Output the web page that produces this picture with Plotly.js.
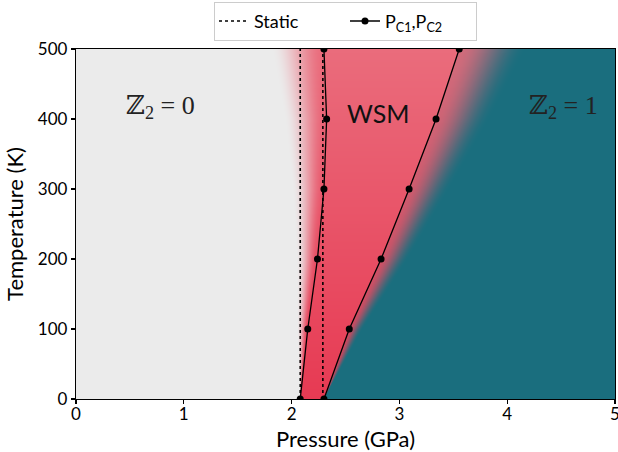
<!DOCTYPE html>
<html>
<head>
<meta charset="utf-8">
<script src="https://cdn.plot.ly/plotly-3.0.1.min.js"></script>
<style>html,body{margin:0;padding:0;background:#fff;}#chart{width:618px;height:452px;}</style>
</head>
<body>
<div id="chart"></div>
<script>
// ---- data ----
const temps = [0, 100, 200, 300, 400, 500];               // K
const pc1 = [2.08, 2.15, 2.24, 2.30, 2.325, 2.30];        // GPa
const pc2 = [2.30, 2.535, 2.83, 3.09, 3.34, 3.555];       // GPa
const staticP = [2.08, 2.29];                             // GPa
const phaseLabels = ['\u2124<sub>2</sub> = 0', 'WSM', '\u2124<sub>2</sub> = 1'];
const labelP = [0.78, 2.81, 4.52];
const labelT = [417, 408, 417];

// ---- styling ----
const gray = [235, 235, 235];
const redBottom = [231, 58, 83];
const redTop = [234, 108, 124];
const teal = [26, 110, 126];

function interp(arr, T) {
  for (let i = 0; i < temps.length - 1; i++) {
    if (T <= temps[i + 1]) {
      const f = (T - temps[i]) / (temps[i + 1] - temps[i]);
      return arr[i] + f * (arr[i + 1] - arr[i]);
    }
  }
  return arr[arr.length - 1];
}
function mix(a, b, t) { return [0,1,2].map(k => Math.round(a[k] + (b[k] - a[k]) * t)); }
function clamp(v) { return Math.max(0, Math.min(1, v)); }
function smooth(t) { t = clamp(t); return t * t * (3 - 2 * t); }

// background phase map (colour field derived from the boundary arrays)
const NX = 539, NY = 350;
const Pmax = 5, Tmax = temps[temps.length - 1];
const dP = Pmax / NX, dT = Tmax / NY;
const img = [];
for (let j = 0; j < NY; j++) {
  const T = Tmax - (j + 0.5) * dT;
  const p1 = interp(pc1, T), p2 = interp(pc2, T);
  const red = mix(redBottom, redTop, T / Tmax);
  const wL = Math.max(0.00098 * T, 0.004);
  const wR = Math.max(0.00125 * T, 0.004);
  const row = [];
  for (let i = 0; i < NX; i++) {
    const P = (i + 0.5) * dP;
    let c;
    if (P < p1) {
      const t = (P - (p1 - wL)) / wL;
      c = mix(gray, red, smooth(t));
    } else if (P < p2) {
      c = red;
    } else {
      const u = (P - p2) / wR;
      c = mix(red, teal, 0.12 + 0.88 * smooth(u));
    }
    row.push(c);
  }
  img.push(row);
}

const traces = [];
traces.push({
  type: 'image', z: img, x0: dP / 2, dx: dP, y0: Tmax - dT / 2, dy: -dT,
  hoverinfo: 'skip', showlegend: false
});

const sx = [], sy = [];
staticP.forEach((p, k) => {
  if (k) { sx.push(null); sy.push(null); }
  sx.push(p, p); sy.push(temps[0], temps[temps.length - 1]);
});
traces.push({
  type: 'scatter', mode: 'lines', x: sx, y: sy, name: 'Static',
  line: {color: 'black', width: 1.6, dash: '3px,3px'}
});
traces.push({
  type: 'scatter', mode: 'lines+markers', x: pc1, y: temps,
  name: 'P<sub>C1</sub>,P<sub>C2</sub>', legendgroup: 'pc',
  line: {color: 'black', width: 1.3}, marker: {color: 'black', size: 7}
});
traces.push({
  type: 'scatter', mode: 'lines+markers', x: pc2, y: temps,
  name: 'PC2', legendgroup: 'pc', showlegend: false,
  line: {color: 'black', width: 1.3}, marker: {color: 'black', size: 7}
});

const annotations = phaseLabels.map((t, k) => ({
  x: labelP[k], y: labelT[k], xref: 'x', yref: 'y', text: t, showarrow: false,
  font: k === 1 ? {family: 'Lato, sans-serif', size: 25, color: '#111'}
                : {family: '"Liberation Serif", "DejaVu Serif", serif', size: 26, color: '#222'}
}));

const layout = {
  width: 618, height: 452,
  margin: {l: 76, r: 3, t: 49, b: 53},
  paper_bgcolor: 'white', plot_bgcolor: 'white',
  font: {family: 'Lato, sans-serif', color: 'black', size: 17},
  showlegend: true,
  legend: {orientation: 'h', x: 0.5, xanchor: 'center', xref: 'paper',
           yref: 'container', y: 0.996, yanchor: 'top',
           bordercolor: '#cccccc', borderwidth: 1, bgcolor: 'white',
           font: {size: 18}, entrywidth: 86, entrywidthmode: 'pixels'},
  xaxis: {range: [0, 5], autorange: false, dtick: 1, tick0: 0, ticks: 'outside', ticklen: 4,
          tickwidth: 1.2, tickcolor: 'black', showline: true, linecolor: 'black', linewidth: 1.2,
          mirror: true, showgrid: false, zeroline: false, scaleanchor: false,
          ticklabeloverflow: 'allow', ticklabelstandoff: -5,
          tickfont: {size: 17}, title: {text: 'Pressure (GPa)', font: {size: 22}, standoff: 12}},
  yaxis: {range: [0, 500], autorange: false, dtick: 100, tick0: 0, ticks: 'outside', ticklen: 4,
          tickwidth: 1.2, tickcolor: 'black', showline: true, linecolor: 'black', linewidth: 1.2,
          mirror: true, showgrid: false, zeroline: false, scaleanchor: false,
          tickfont: {size: 17}, title: {text: 'Temperature (K)', font: {size: 22}, standoff: 8}},
  annotations: annotations
};

Plotly.newPlot('chart', traces, layout, {displayModeBar: false, staticPlot: true});
</script>
</body>
</html>
